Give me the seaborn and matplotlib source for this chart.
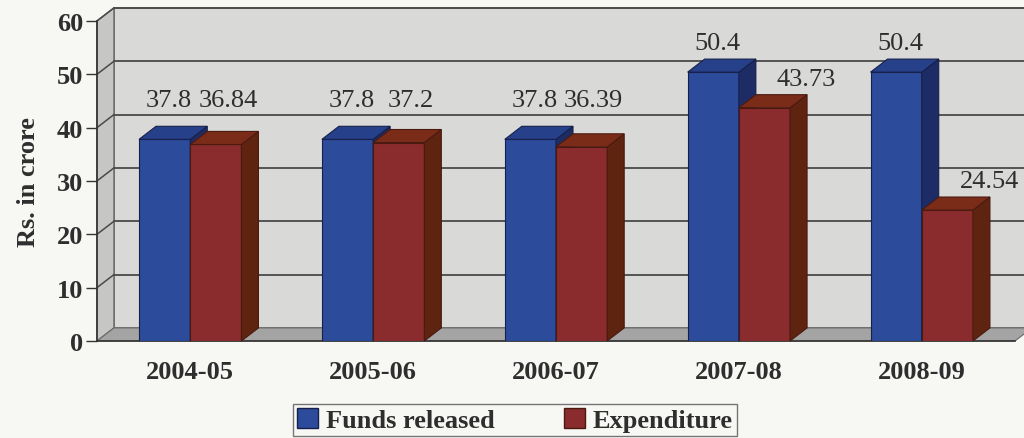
import matplotlib
matplotlib.use("Agg")
import matplotlib.pyplot as plt
from matplotlib.patches import Polygon, Patch
import seaborn as sns
import pandas as pd

# Chart data
years = ["2004-05", "2005-06", "2006-07", "2007-08", "2008-09"]
funds_released = [37.8, 37.8, 37.8, 50.4, 50.4]
expenditure = [36.84, 37.2, 36.39, 43.73, 24.54]
series_names = ["Funds released", "Expenditure"]
y_ticks = [0, 10, 20, 30, 40, 50, 60]

df = pd.DataFrame({
    "year": years * 2,
    "value": funds_released + expenditure,
    "series": [series_names[0]] * len(years) + [series_names[1]] * len(years),
})

sns.set_theme(style="white")
plt.rcParams["font.family"] = ["Liberation Serif", "DejaVu Serif"]

FRONT = {"Funds released": "#2C4B9B", "Expenditure": "#8A2B2D"}
SIDE = {"Funds released": "#1E2C66", "Expenditure": "#5E2410"}
TOP = {"Funds released": "#26418A", "Expenditure": "#7A2C18"}
EDGE = {"Funds released": "#16204A", "Expenditure": "#4A1A10"}
TEXT = "#2E2E2E"
FS = 19

fig = plt.figure(figsize=(10.24, 4.39), dpi=100, facecolor="#F7F7F4")
ax = fig.add_axes([0.0947, 0.221, 0.8965, 0.729])
ax.set_facecolor("none")

XMIN, XMAX = -0.51, 4.51
YMAX = 60
DX, DY = 0.093, 2.45  # depth of the 3-D box in data units

# back wall, left wall and floor of the 3-D box
ax.add_patch(Polygon([(XMIN + DX, DY), (XMAX + DX, DY), (XMAX + DX, YMAX + DY), (XMIN + DX, YMAX + DY)],
                     closed=True, facecolor="#D9D9D8", edgecolor="#6A6A6A", lw=1.2, zorder=0, clip_on=False))
ax.add_patch(Polygon([(XMIN, 0), (XMIN + DX, DY), (XMIN + DX, YMAX + DY), (XMIN, YMAX)],
                     closed=True, facecolor="#C6C6C5", edgecolor="#6A6A6A", lw=1.0, zorder=0.5, clip_on=False))
ax.add_patch(Polygon([(XMIN, 0), (XMAX, 0), (XMAX + DX, DY), (XMIN + DX, DY)],
                     closed=True, facecolor="#A4A4A4", edgecolor="#6A6A6A", lw=0.8, zorder=1.5, clip_on=False))
for t in y_ticks[1:]:
    ax.plot([XMIN + DX, XMAX + DX], [t + DY, t + DY], color="#4A4A4A", lw=1.3, zorder=1, clip_on=False)
    ax.plot([XMIN, XMIN + DX], [t, t + DY], color="#4A4A4A", lw=1.1, zorder=1, clip_on=False)

sns.barplot(data=df, x="year", y="value", hue="series", hue_order=series_names,
            palette=FRONT, width=0.56, dodge=True, legend=False, ax=ax, saturation=1)

for j, (cont, name) in enumerate(zip(ax.containers, series_names)):
    z = 3 + j
    for bar in cont:
        x0 = bar.get_x()
        w = bar.get_width()
        h = bar.get_height()
        x1 = x0 + w
        bar.set_zorder(z)
        bar.set_edgecolor(EDGE[name])
        bar.set_linewidth(0.8)
        ax.add_patch(Polygon([(x1, 0), (x1 + DX, DY), (x1 + DX, h + DY), (x1, h)], closed=True,
                             facecolor=SIDE[name], edgecolor=EDGE[name], lw=0.8, zorder=z, clip_on=False))
        ax.add_patch(Polygon([(x0, h), (x0 + DX, h + DY), (x1 + DX, h + DY), (x1, h)], closed=True,
                             facecolor=TOP[name], edgecolor=EDGE[name], lw=0.8, zorder=z, clip_on=False))

# value labels: pairs of similar height share one label row
for i in range(len(years)):
    group_max = max(funds_released[i], expenditure[i])
    group_min = min(funds_released[i], expenditure[i])
    shared = group_max - group_min < 3
    for j, cont in enumerate(ax.containers):
        bar = cont[i]
        h = bar.get_height()
        ref = group_max if shared else h
        lift = 39 if shared else 29
        shift = 4
        if j == 1:
            shift = 42 if funds_released[i] - h > 3 else 12
        ax.annotate(f"{h:g}", (bar.get_x() + bar.get_width() / 2, ref),
                    xytext=(shift, lift), textcoords="offset pixels",
                    ha="center", va="center", fontsize=FS, color=TEXT, zorder=10,
                    annotation_clip=False)

ax.set_xlim(XMIN, XMAX)
ax.set_ylim(0, YMAX)
ax.set_yticks(y_ticks)
ax.set_xticks(range(len(years)))
ax.set_xticklabels(years)
ax.set_xticks([k + 0.5 for k in range(-1, len(years))], minor=True)
for lab in ax.get_xticklabels() + ax.get_yticklabels():
    lab.set_fontweight("bold")
    lab.set_color(TEXT)
ax.tick_params(axis="x", which="major", length=0, labelsize=FS, pad=14)
ax.tick_params(axis="x", which="minor", length=8, width=1.0, color="#333333", direction="out")
ax.tick_params(axis="y", length=8, width=1.0, color="#333333", labelsize=FS, pad=2, direction="out", left=True)

for s in ["top", "right"]:
    ax.spines[s].set_visible(False)
ax.spines["left"].set_color("#333333")
ax.spines["left"].set_linewidth(1.2)
ax.spines["bottom"].set_color("#333333")
ax.spines["bottom"].set_linewidth(1.2)
ax.spines["left"].set_zorder(2)

ax.set_xlabel("")
ax.set_ylabel("Rs. in crore", fontsize=FS, fontweight="bold", color=TEXT, labelpad=12)

handles = [Patch(facecolor=FRONT[n], edgecolor=EDGE[n], label=n) for n in series_names]
leg = fig.legend(handles=handles, loc="center", bbox_to_anchor=(0.503, 0.041), ncol=2,
                 frameon=True, fancybox=False, edgecolor="#555555", facecolor="#F7F7F4",
                 handlelength=0.8, handleheight=0.8, handletextpad=0.3, columnspacing=2.6,
                 borderpad=0.15, borderaxespad=0.3, prop={"size": FS, "weight": "bold"})
for t in leg.get_texts():
    t.set_color(TEXT)

fig.savefig("out.png", dpi=100, facecolor=fig.get_facecolor())
